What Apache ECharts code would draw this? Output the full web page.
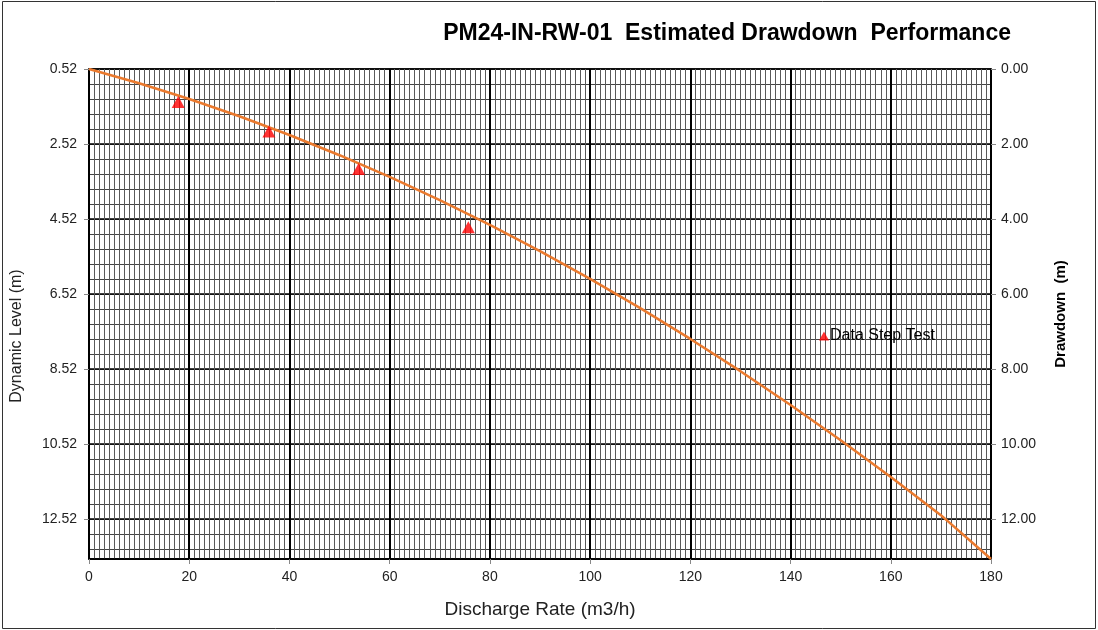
<!DOCTYPE html>
<html>
<head>
<meta charset="utf-8">
<script src="https://cdn.jsdelivr.net/npm/echarts@6/dist/echarts.min.js"></script>
<style>
    html, body { margin: 0; padding: 0; background: #fff; }
    #chart { width: 1098px; height: 630px; }
</style>
</head>
<body>
<div id="chart"></div>
<script>
// estimated drawdown curve
const curveRate     = [0, 10, 20, 30, 40, 50, 60, 70, 80, 90, 100, 110, 120, 130, 140, 150, 160, 170, 180];
const curveDrawdown = [0, 0.38, 0.80, 1.26, 1.76, 2.30, 2.88, 3.50, 4.16, 4.86, 5.60, 6.38, 7.20, 8.06, 8.96, 9.90, 10.88, 11.90, 13.07];

// step test points
const stepRate     = [17.8, 35.9, 53.8, 75.7];
const stepDrawdown = [0.88, 1.67, 2.67, 4.22];

// tick labels
const levelLabels    = ['0.52', '2.52', '4.52', '6.52', '8.52', '10.52', '12.52'];
const drawdownLabels = ['0.00', '2.00', '4.00', '6.00', '8.00', '10.00', '12.00'];

const fontFamily = '"Liberation Sans", Arial, sans-serif';
const yMax = 13.07;

function pairs(xs, ys) {
    let out = [];
    for (let i = 0; i < xs.length; i++) {
        out.push([xs[i], ys[i]]);
    }
    return out;
}

const chart = echarts.init(document.getElementById('chart'));

const option = {
    animation: false,
    textStyle: { fontFamily: fontFamily },
    title: {
        text: 'PM24-IN-RW-01  Estimated Drawdown  Performance',
        right: 82,
        top: 17,
        textStyle: { fontSize: 23, fontWeight: 'bold', color: '#000', fontFamily: fontFamily }
    },
    legend: {
        data: ['Data Step Test'],
        left: 814,
        top: 323,
        icon: 'triangle',
        itemWidth: 10,
        itemHeight: 9,
        itemGap: 4,
        textStyle: { fontSize: 16, color: '#000', padding: [0, 0, 0, -4] }
    },
    graphic: [
        {
            type: 'rect',
            shape: { x: 2.5, y: 1.5, width: 1093, height: 627 },
            style: { fill: 'none', stroke: '#333', lineWidth: 1 },
            silent: true
        },
        {
            // left axis title, sits a bit below the plot centre in the original
            type: 'text',
            x: 17,
            y: 336,
            rotation: Math.PI / 2,
            style: {
                text: 'Dynamic Level (m)',
                font: '16px ' + fontFamily,
                fill: '#222',
                align: 'center',
                verticalAlign: 'middle'
            },
            silent: true
        }
    ],
    grid: {
        left: 89,
        right: 107,
        top: 69,
        bottom: 71,
        show: true,
        borderColor: '#000',
        borderWidth: 1.5,
        backgroundColor: 'transparent'
    },
    xAxis: {
        type: 'value',
        min: 0,
        max: 180,
        interval: 20,
        name: 'Discharge Rate (m3/h)',
        nameLocation: 'middle',
        nameGap: 41,
        nameTextStyle: { fontSize: 19, color: '#222' },
        axisLine: { show: true, onZero: false, lineStyle: { color: '#000', width: 1.5 } },
        axisTick: { show: true, length: 5, lineStyle: { color: '#888' } },
        axisLabel: { fontSize: 14, color: '#222', margin: 11 },
        splitLine: { show: true, lineStyle: { color: '#000', width: 2 } },
        minorTick: { show: false, splitNumber: 20 },
        minorSplitLine: { show: true, lineStyle: { color: '#5a5a5a', width: 1 } }
    },
    yAxis: [
        {
            // fine horizontal grid only
            type: 'value',
            position: 'left',
            inverse: true,
            min: 0,
            max: yMax,
            interval: 0.4,
            axisLine: { show: false },
            axisTick: { show: false },
            axisLabel: { show: false },
            splitLine: { show: true, lineStyle: { color: '#444', width: 1 } }
        },
        {
            type: 'value',
            position: 'left',
            inverse: true,
            min: 0,
            max: yMax,
            interval: 2,
            axisLine: { show: true, lineStyle: { color: '#000', width: 1.5 } },
            axisTick: { show: true, length: 5, lineStyle: { color: '#888' } },
            axisLabel: {
                fontSize: 14,
                color: '#222',
                margin: 12,
                showMaxLabel: false,
                formatter: function (v) {
                    return levelLabels[Math.round(v / 2)] || '';
                }
            },
            splitLine: { show: true, lineStyle: { color: '#000', width: 1.5 } }
        },
        {
            type: 'value',
            position: 'right',
            inverse: true,
            min: 0,
            max: yMax,
            interval: 2,
            name: 'Drawdown  (m)',
            nameLocation: 'middle',
            nameGap: 62,
            nameRotate: 90,
            nameTextStyle: { fontSize: 15, fontWeight: 'bold', color: '#000' },
            axisLine: { show: true, lineStyle: { color: '#000', width: 1.5 } },
            axisTick: { show: true, length: 5, lineStyle: { color: '#888' } },
            axisLabel: {
                fontSize: 14,
                color: '#222',
                margin: 10,
                showMaxLabel: false,
                formatter: function (v) {
                    return drawdownLabels[Math.round(v / 2)] || '';
                }
            },
            splitLine: { show: false }
        }
    ],
    series: [
        {
            name: 'Estimated',
            type: 'line',
            yAxisIndex: 2,
            data: pairs(curveRate, curveDrawdown),
            showSymbol: false,
            symbol: 'none',
            lineStyle: { color: '#EB7A2E', width: 2.5 },
            z: 3
        },
        {
            name: 'Data Step Test',
            type: 'scatter',
            yAxisIndex: 2,
            data: pairs(stepRate, stepDrawdown),
            symbol: 'triangle',
            symbolSize: [13, 12],
            itemStyle: { color: '#FF0000' },
            z: 4
        }
    ]
};

chart.setOption(option);
</script>
</body>
</html>
